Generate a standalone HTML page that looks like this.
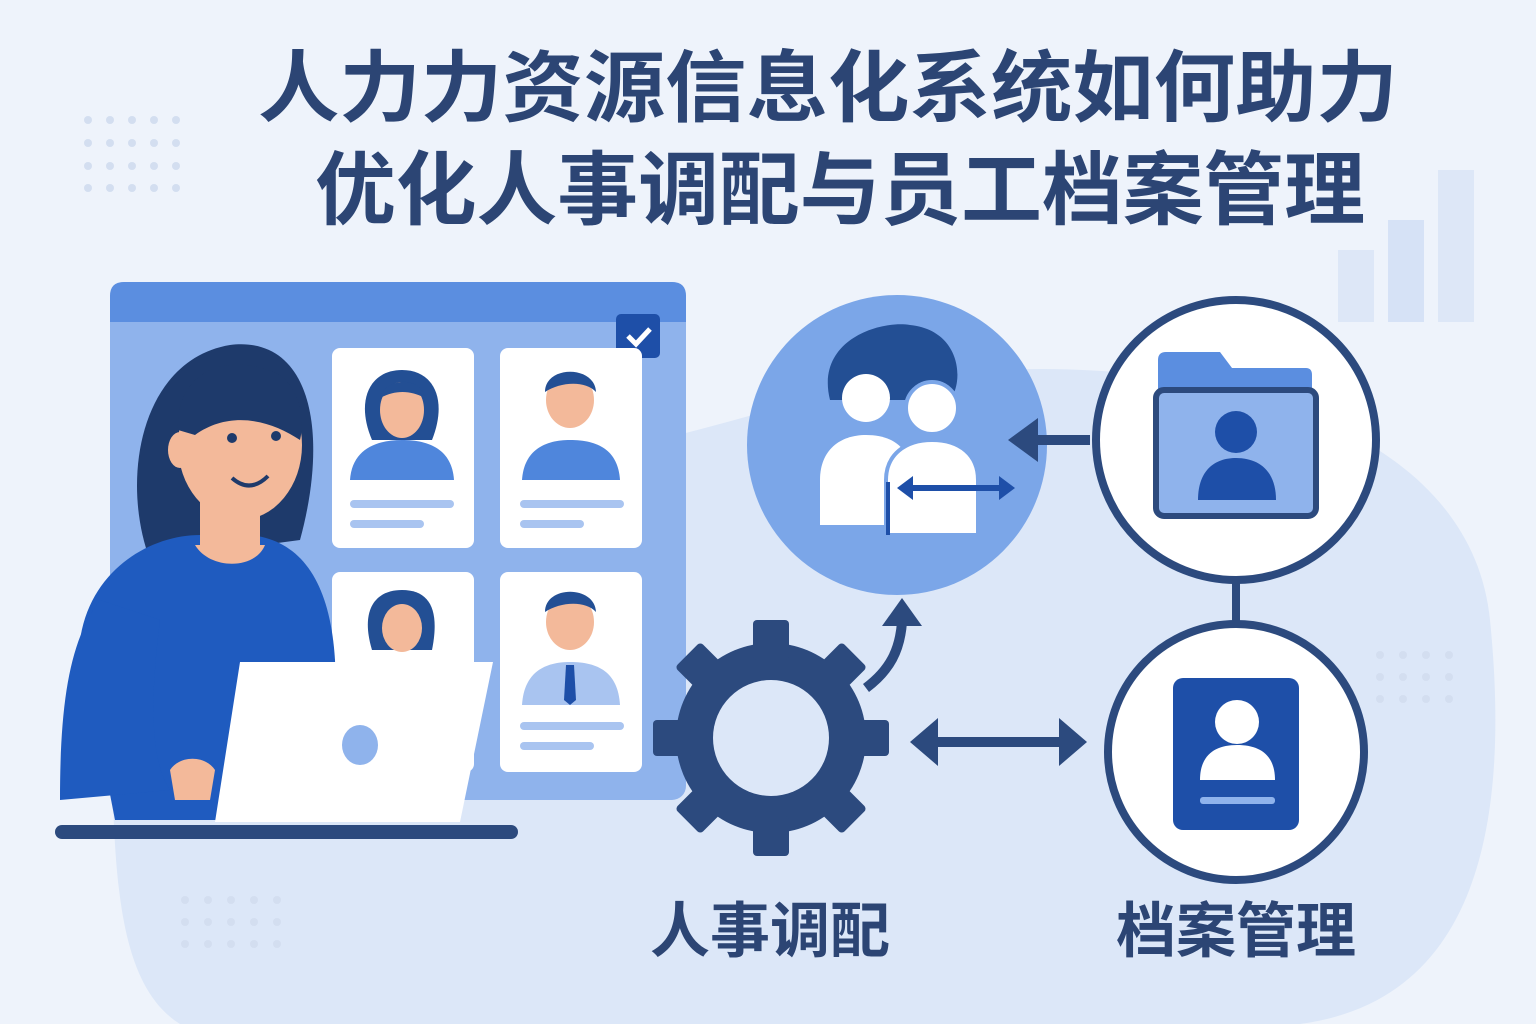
<!DOCTYPE html>
<html><head><meta charset="utf-8"><style>
html,body{margin:0;padding:0;background:#eef3fb;}
svg{display:block}
text{font-family:"Liberation Sans","Noto Sans CJK SC",sans-serif;font-weight:bold;}
</style></head><body>
<svg width="1536" height="1024" viewBox="0 0 1536 1024" xmlns="http://www.w3.org/2000/svg">
<rect width="1536" height="1024" fill="#eef3fb"/>
<path d="M110 700 C100 560 300 470 520 460 C700 450 800 380 1000 370 C1200 360 1470 420 1490 620 C1510 820 1480 1000 1300 1024 L180 1024 C110 980 115 850 110 700Z" fill="#dce7f8"/>
<!-- dots -->
<g fill="#d3def0">
<circle cx="88" cy="120" r="4"/><circle cx="110" cy="120" r="4"/><circle cx="132" cy="120" r="4"/><circle cx="154" cy="120" r="4"/><circle cx="176" cy="120" r="4"/>
<circle cx="88" cy="143" r="4"/><circle cx="110" cy="143" r="4"/><circle cx="132" cy="143" r="4"/><circle cx="154" cy="143" r="4"/><circle cx="176" cy="143" r="4"/>
<circle cx="88" cy="166" r="4"/><circle cx="110" cy="166" r="4"/><circle cx="132" cy="166" r="4"/><circle cx="154" cy="166" r="4"/><circle cx="176" cy="166" r="4"/>
<circle cx="88" cy="188" r="4"/><circle cx="110" cy="188" r="4"/><circle cx="132" cy="188" r="4"/><circle cx="154" cy="188" r="4"/><circle cx="176" cy="188" r="4"/>
<circle cx="185" cy="900" r="4"/><circle cx="208" cy="900" r="4"/><circle cx="231" cy="900" r="4"/><circle cx="254" cy="900" r="4"/><circle cx="277" cy="900" r="4"/>
<circle cx="185" cy="922" r="4"/><circle cx="208" cy="922" r="4"/><circle cx="231" cy="922" r="4"/><circle cx="254" cy="922" r="4"/><circle cx="277" cy="922" r="4"/>
<circle cx="185" cy="944" r="4"/><circle cx="208" cy="944" r="4"/><circle cx="231" cy="944" r="4"/><circle cx="254" cy="944" r="4"/><circle cx="277" cy="944" r="4"/>
<circle cx="1380" cy="655" r="4"/><circle cx="1403" cy="655" r="4"/><circle cx="1426" cy="655" r="4"/><circle cx="1449" cy="655" r="4"/>
<circle cx="1380" cy="677" r="4"/><circle cx="1403" cy="677" r="4"/><circle cx="1426" cy="677" r="4"/><circle cx="1449" cy="677" r="4"/>
<circle cx="1380" cy="699" r="4"/><circle cx="1403" cy="699" r="4"/><circle cx="1426" cy="699" r="4"/><circle cx="1449" cy="699" r="4"/>
</g>
<!-- bars -->
<rect x="1338" y="250" width="36" height="72" fill="#dde7f7"/>
<rect x="1388" y="220" width="36" height="102" fill="#d6e2f6"/>
<rect x="1438" y="170" width="36" height="152" fill="#dde7f7"/>
<!-- title -->
<text x="258" y="115" font-size="78" fill="#2c4574" textLength="1140" lengthAdjust="spacingAndGlyphs">人力力资源信息化系统如何助力</text>
<text x="315" y="218" font-size="80" fill="#2c4574" textLength="1050" lengthAdjust="spacingAndGlyphs">优化人事调配与员工档案管理</text>
<!-- screen -->
<rect x="110" y="282" width="576" height="518" rx="14" fill="#8fb3ec"/>
<path d="M110 322 V296 Q110 282 124 282 H672 Q686 282 686 296 V322Z" fill="#5b8ee0"/>
<rect x="616" y="314" width="44" height="44" rx="5" fill="#1e4fa8"/>
<path d="M628 336 l8 8 l14 -15" stroke="#fff" stroke-width="5" fill="none"/>
<!-- cards -->
<g>
<rect x="332" y="348" width="142" height="200" rx="8" fill="#fff"/>
<rect x="500" y="348" width="142" height="200" rx="8" fill="#fff"/>
<rect x="332" y="572" width="142" height="200" rx="8" fill="#fff"/>
<rect x="500" y="572" width="142" height="200" rx="8" fill="#fff"/>
<!-- card1 woman -->
<path d="M372 440 C355 400 370 370 402 370 C434 370 448 400 432 440Z" fill="#234f94"/>
<ellipse cx="402" cy="410" rx="22" ry="28" fill="#f3b99a"/>
<path d="M380 398 C385 378 420 375 425 398 C410 390 395 390 380 398Z" fill="#234f94"/>
<path d="M350 480 C352 450 375 440 402 440 C430 440 452 450 454 480Z" fill="#4f86dc"/>
<rect x="350" y="500" width="104" height="8" rx="4" fill="#a9c4f0"/><rect x="350" y="520" width="74" height="8" rx="4" fill="#a9c4f0"/>
<!-- card2 man -->
<ellipse cx="570" cy="400" rx="24" ry="28" fill="#f3b99a"/>
<path d="M545 392 C545 365 595 365 596 392 C585 380 560 382 545 392Z" fill="#234f94"/>
<path d="M522 480 C524 450 545 440 570 440 C598 440 618 450 620 480Z" fill="#4f86dc"/>
<rect x="520" y="500" width="104" height="8" rx="4" fill="#a9c4f0"/><rect x="520" y="520" width="64" height="8" rx="4" fill="#a9c4f0"/>
<!-- card3 -->
<path d="M372 650 C360 610 375 590 402 590 C430 590 440 610 432 650Z" fill="#234f94"/>
<ellipse cx="402" cy="628" rx="20" ry="24" fill="#f3b99a"/>
<!-- card4 -->
<ellipse cx="570" cy="622" rx="24" ry="28" fill="#f3b99a"/>
<path d="M545 612 C545 585 595 585 596 612 C585 600 560 602 545 612Z" fill="#234f94"/>
<path d="M522 705 C524 672 545 662 570 662 C598 662 618 672 620 705Z" fill="#a9c4f0"/>
<path d="M566 665 L574 665 L576 700 L570 705 L564 700Z" fill="#1e4fa8"/>
<rect x="520" y="722" width="104" height="8" rx="4" fill="#a9c4f0"/><rect x="520" y="742" width="74" height="8" rx="4" fill="#a9c4f0"/>
</g>
<!-- woman -->
<path d="M150 560 C120 480 140 360 230 345 C310 335 330 430 300 540Z" fill="#1e3a6b"/>
<path d="M80 640 C90 570 150 535 200 535 L250 535 C300 540 330 580 335 660 L340 820 L115 820 Z" fill="#1f5bbf"/>
<path d="M60 800 C60 700 70 640 100 600 L160 620 C150 700 150 760 170 790Z" fill="#1f5bbf"/>
<rect x="200" y="490" width="60" height="60" fill="#f3b99a"/>
<path d="M195 545 C210 570 255 570 265 545Z" fill="#f3b99a"/>
<ellipse cx="240" cy="445" rx="62" ry="75" fill="#f3b99a"/>
<path d="M178 430 C175 370 230 350 280 375 C300 390 305 420 300 440 C270 420 230 410 195 435Z" fill="#1e3a6b"/>
<ellipse cx="180" cy="450" rx="12" ry="18" fill="#f3b99a"/>
<circle cx="232" cy="438" r="5" fill="#1e3a6b"/><circle cx="276" cy="436" r="5" fill="#1e3a6b"/>
<path d="M232 478 Q250 494 268 476" stroke="#1e3a6b" stroke-width="4" fill="none"/>
<!-- laptop -->
<path d="M240 662 L493 662 L460 822 L215 822Z" fill="#fff"/>
<ellipse cx="360" cy="745" rx="18" ry="20" fill="#8fb3ec"/>
<path d="M170 770 C180 755 205 755 215 770 L210 800 L175 800Z" fill="#f3b99a"/>
<rect x="55" y="825" width="463" height="14" rx="7" fill="#2c4a7e"/>
<!-- circle1 -->
<circle cx="897" cy="445" r="150" fill="#7ba6e8"/>
<path d="M830 400 C815 340 880 320 910 325 C960 330 965 380 950 400Z" fill="#234f94"/>
<circle cx="866" cy="398" r="24" fill="#fff"/>
<path d="M820 525 V480 C820 450 840 435 866 435 C895 435 912 450 912 480 V525Z" fill="#fff"/>
<circle cx="932" cy="408" r="26" fill="#fff" stroke="#7ba6e8" stroke-width="4"/>
<path d="M886 535 V480 C886 455 905 440 932 440 C960 440 978 455 978 480 V535Z" fill="#fff" stroke="#7ba6e8" stroke-width="4"/>
<path d="M888 482 V535" stroke="#1e4fa8" stroke-width="4"/>
<path d="M905 488 H1005" stroke="#1e4fa8" stroke-width="6"/>
<path d="M897 488 l16 -12 v24Z M1015 488 l-16 -12 v24Z" fill="#1e4fa8"/>
<!-- arrow to circle1 -->
<path d="M1090 440 H1030" stroke="#2c4a7e" stroke-width="10"/>
<path d="M1008 440 l30 -22 v44Z" fill="#2c4a7e"/>
<!-- circle2 -->
<circle cx="1236" cy="440" r="140" fill="#fff" stroke="#2c4a7e" stroke-width="8"/>
<path d="M1158 395 V360 Q1158 352 1166 352 H1220 L1232 368 H1306 Q1312 368 1312 375 V395Z" fill="#5b8ee0"/>
<rect x="1156" y="390" width="160" height="126" rx="8" fill="#8fb3ec" stroke="#2c4a7e" stroke-width="6"/>
<circle cx="1236" cy="432" r="21" fill="#1e4fa8"/>
<path d="M1198 500 C1198 470 1215 458 1236 458 C1258 458 1276 470 1276 500Z" fill="#1e4fa8"/>
<path d="M1236 580 V622" stroke="#2c4a7e" stroke-width="8"/>
<!-- circle3 -->
<circle cx="1236" cy="752" r="128" fill="#fff" stroke="#2c4a7e" stroke-width="8"/>
<rect x="1173" y="678" width="126" height="152" rx="10" fill="#1e4fa8"/>
<circle cx="1237" cy="722" r="22" fill="#fff"/>
<path d="M1200 780 C1200 755 1215 745 1237 745 C1260 745 1275 755 1275 780Z" fill="#fff"/>
<rect x="1200" y="797" width="75" height="7" rx="3" fill="#8fb3ec"/>
<!-- gear -->
<g transform="translate(771,738)" fill="#2c4a7e">
<circle r="95"/>
<g id="t"><rect x="-18" y="-118" width="36" height="40" rx="4"/></g>
<use href="#t" transform="rotate(45)"/><use href="#t" transform="rotate(90)"/><use href="#t" transform="rotate(135)"/>
<use href="#t" transform="rotate(180)"/><use href="#t" transform="rotate(225)"/><use href="#t" transform="rotate(270)"/><use href="#t" transform="rotate(315)"/>
<circle r="58" fill="#dce7f8"/>
</g>
<!-- curved arrow -->
<path d="M866 688 C890 670 900 650 902 622" stroke="#2c4a7e" stroke-width="10" fill="none"/>
<path d="M902 598 l-20 28 h40Z" fill="#2c4a7e"/>
<!-- double arrow -->
<path d="M930 742 H1065" stroke="#2c4a7e" stroke-width="10"/>
<path d="M910 742 l28 -24 v48Z M1087 742 l-28 -24 v48Z" fill="#2c4a7e"/>
<!-- labels -->
<text x="770" y="952" font-size="60" fill="#2c4574" text-anchor="middle">人事调配</text>
<text x="1236" y="952" font-size="60" fill="#2c4574" text-anchor="middle">档案管理</text>
</svg>
</body></html>
